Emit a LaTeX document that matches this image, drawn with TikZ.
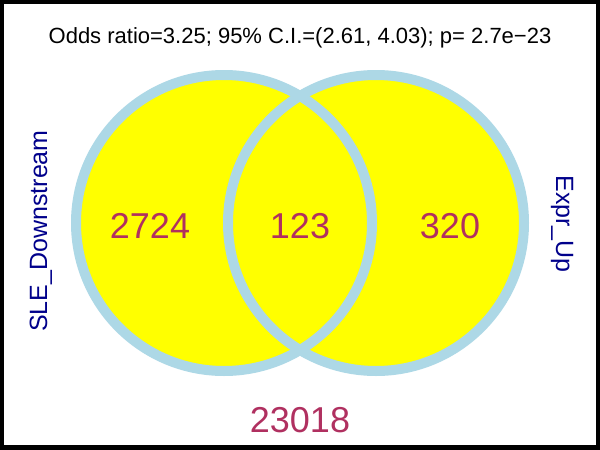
\documentclass[tikz,border=0pt]{standalone}
\usepackage{fontspec}
\setmainfont{Liberation Sans}
\usetikzlibrary{positioning}
\definecolor{setyellow}{RGB}{255,255,0}
\definecolor{ringblue}{RGB}{173,216,230}
\definecolor{countred}{RGB}{176,48,96}
\definecolor{setblue}{RGB}{0,0,139}
\begin{document}
\begin{tikzpicture}[x=1pt,y=-1pt,
        setfill/.style={circle,fill=setyellow,minimum size=302pt,inner sep=0pt},
        ring/.style={draw=ringblue,line width=10pt},
        count/.style={text=countred,font=\fontsize{36}{36}\selectfont,anchor=base},
        setname/.style={text=setblue,font=\fontsize{25}{25}\selectfont,anchor=base}]
        \useasboundingbox (0,0) rectangle (600,450);
        \fill[black] (0,0) rectangle (600,450);
        \fill[white] (4,4) rectangle (596,445);
        \node[anchor=base,font=\fontsize{22}{22}\selectfont] (title) at (300,43) {Odds ratio=3.25; 95\% C.I.=(2.61, 4.03); p= 2.7e−23};
        \node[setfill] (L) at (224,223) {};
        \node[setfill] (R) at (376,223) {};
        \draw[ring] (L.center) circle[radius=148];
        \draw[ring] (R.center) circle[radius=148];
        \node[count] (onlyL) at (150,238) {2724};
        \node[count] (both)  at (300,238) {123};
        \node[count] (onlyR) at (450,238) {320};
        \node[count] (none)  at (300,432) {23018};
        \node[setname,rotate=90]  (nameL) at (47,231) {SLE\_Downstream};
        \node[setname,rotate=-90] (nameR) at (556,224) {Expr\_Up};
    \end{tikzpicture}
\end{document}
